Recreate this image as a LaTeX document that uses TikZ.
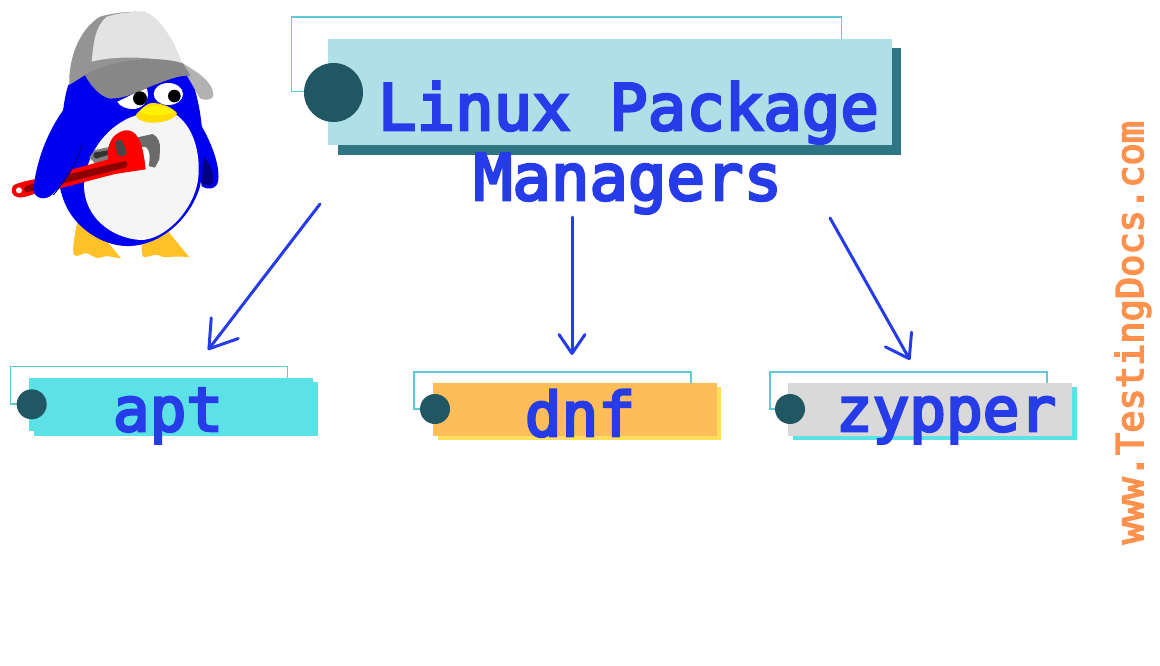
\documentclass[tikz,border=0pt]{standalone}
\usepackage{fontspec}
\usetikzlibrary{arrows.meta}
\newfontfamily\monofam[FakeBold=4.2]{DejaVu Sans Mono}
\definecolor{txtblue}{HTML}{263CE8}
\definecolor{dotc}{HTML}{215663}
\definecolor{linec}{HTML}{5CCBD8}
\definecolor{mainbg}{HTML}{AFE0E7}
\definecolor{mainsh}{HTML}{2F7684}
\definecolor{cyanb}{HTML}{5CE1E6}
\definecolor{orangeb}{HTML}{FFBD59}
\definecolor{yellowb}{HTML}{FFDE59}
\definecolor{greyb}{HTML}{D9D9D9}
\definecolor{sitec}{HTML}{FF914D}
\definecolor{pblue}{HTML}{0000F0}
\definecolor{pnavy}{HTML}{000080}
\definecolor{pfoot}{HTML}{FFC125}
\tikzset{
  outl/.style={draw=linec,line width=1.1pt,fill=white},
  dot/.style={circle,fill=dotc,inner sep=0pt,minimum size=#1},
  bigtxt/.style={anchor=base,text=txtblue,font=\monofam\fontsize{64}{70}\selectfont,inner sep=0pt},
  itemtxt/.style={anchor=base,text=txtblue,font=\monofam\fontsize{61}{66}\selectfont,inner sep=0pt},
  arr/.style args={#1/#2}{draw=txtblue,line width=3pt,line cap=round,-{Straight Barb[length=#1pt,width=#2pt,line width=3pt,round]}},
}
\begin{document}
\begin{tikzpicture}[x=1pt,y=-1pt]
\useasboundingbox[fill=white] (0,0) rectangle (1160,665);
% title
\draw[outl] (291.5,17) rectangle (841.5,91.5);
\fill[mainsh] (338,48) rectangle (901,154.5);
\fill[mainbg] (328,38.5) rectangle (891.5,145);
\node[dot=59pt] (titledot) at (333.5,92.5) {};
\node[bigtxt] (t1) at (628.5,130) {Linux Package};
\node[bigtxt] (t2) at (628,200) {Managers};
% apt
\draw[outl] (10.5,366.7) rectangle (287.7,404);
\fill[cyanb] (34,382) rectangle (317.7,435.7);
\fill[cyanb] (29,377.7) rectangle (313,431);
\node[dot=30pt] (aptdot) at (31.7,404.3) {};
\node[itemtxt] (apt) at (168,431) {apt};
% dnf
\draw[outl] (414,372) rectangle (691,409);
\fill[yellowb] (438,387) rectangle (721,440);
\fill[orangeb] (433,382.5) rectangle (717,436);
\node[dot=30pt] (dnfdot) at (435,409) {};
\node[itemtxt] (dnf) at (580,436) {dnf};
% zypper
\draw[outl] (770,372) rectangle (1047,409);
\fill[cyanb] (793,387) rectangle (1077,440);
\fill[greyb] (788,382.5) rectangle (1072,436);
\node[dot=30pt] (zypdot) at (790,409) {};
\node[itemtxt] (zyp) at (946,431) {zypper};
% arrows
\coordinate (a1s) at (320,204);
\coordinate (a1e) at (208,350);
\coordinate (a2s) at (572,217);
\coordinate (a2e) at (572,355);
\coordinate (a3s) at (830,218);
\coordinate (a3e) at (910,360);
\draw[arr=26/34] (a1s) -- (a1e);
\draw[arr=19/26] (a2s) -- (a2e);
\draw[arr=22/30] (a3s) -- (a3e);
% site
\node[rotate=90,anchor=base,text=sitec,font=\monofam\fontsize{37}{40}\selectfont,inner sep=0pt] (site) at (1143,332.5) {www.TestingDocs.com};
% penguin
\begin{scope}[scale=0.33333]
 % wrench handle end behind flipper
 \fill[red] (40,556) .. controls (60,546) and (90,540) .. (120,535) -- (130,575) .. controls (100,580) and (75,595) .. (55,592) .. controls (35,590) and (30,570) .. (40,556) -- cycle;
 \fill[red!55!black] (100,550) -- (78,558) .. controls (70,565) and (72,575) .. (80,577) -- (110,570) -- cycle;
 \fill[white] (57,571) circle [radius=9];
 % feet
 \fill[pfoot] (232,665) .. controls (225,700) and (215,750) .. (222,765) .. controls (235,775) and (250,755) .. (262,760) .. controls (275,765) and (290,780) .. (305,772) .. controls (320,762) and (345,775) .. (363,775) -- (285,680) -- cycle;
 \fill[pfoot] (425,735) .. controls (425,750) and (425,760) .. (428,770) .. controls (445,775) and (460,760) .. (475,765) .. controls (490,778) and (520,765) .. (568,772) -- (505,695) -- cycle;
 % right flipper
 \fill[pblue] (600,370) .. controls (630,420) and (660,490) .. (655,540) .. controls (652,570) and (620,570) .. (605,558) -- (590,450) -- cycle;
 \fill[pnavy] (612,470) .. controls (630,490) and (645,525) .. (638,550) .. controls (630,560) and (615,555) .. (605,550) -- cycle;
 % body
 \fill[pblue] (205,255) .. controls (190,300) and (190,340) .. (180,400) .. controls (165,500) and (170,600) .. (230,665) .. controls (270,710) and (330,740) .. (390,738) .. controls (480,735) and (570,660) .. (600,560) .. controls (615,480) and (615,340) .. (570,225) -- (400,190) -- (255,215) -- cycle;
 % belly
 \fill[white!96!black] (252,560) .. controls (255,480) and (300,400) .. (375,360) .. controls (420,335) and (490,330) .. (530,345) .. controls (590,390) and (602,480) .. (594,540) .. controls (580,635) and (490,722) .. (420,720) .. controls (330,713) and (255,650) .. (252,560) -- cycle;
 % hat
 \fill[black!42] (208,255) .. controls (205,180) and (235,90) .. (300,50) .. controls (340,38) and (400,33) .. (435,36) -- (545,195) -- (400,200) -- (255,225) -- cycle;
 \fill[black!11] (275,185) .. controls (280,130) and (285,80) .. (320,50) .. controls (360,38) and (410,32) .. (440,38) .. controls (490,60) and (530,140) .. (548,195) .. controls (480,170) and (350,165) .. (275,185) -- cycle;
 \fill[black!30] (545,188) .. controls (590,215) and (640,245) .. (640,285) .. controls (635,305) and (610,300) .. (600,295) -- (560,225) -- cycle;
 % eyes
 \fill[white] (352,305) .. controls (385,290) and (420,270) .. (440,265) .. controls (450,290) and (440,320) .. (405,327) .. controls (380,328) and (360,320) .. (352,305) -- cycle;
 \fill[white] (505,282) ellipse [x radius=44,y radius=33];
 % brim
 \fill[black!47] (255,225) .. controls (350,172) and (480,168) .. (548,190) .. controls (555,200) and (565,215) .. (572,228) .. controls (540,222) and (490,245) .. (445,262) .. controls (410,280) and (370,295) .. (330,296) .. controls (300,290) and (270,255) .. (255,225) -- cycle;
 \fill[black] (420,295) circle [radius=21];
 \fill[black] (523,288) circle [radius=19];
 % beak
 \fill[yellow!80!orange] (407,345) .. controls (420,330) and (440,308) .. (460,309) .. controls (490,310) and (520,325) .. (531,340) .. controls (525,360) and (480,370) .. (450,368) .. controls (425,365) and (410,358) .. (407,345) -- cycle;
 \fill[yellow] (420,335) .. controls (440,310) and (490,310) .. (525,335) .. controls (490,350) and (445,350) .. (420,335) -- cycle;
 % wrench screw and jaw
 \fill[black!50] (268,472) -- (285,450) -- (332,440) -- (340,475) -- (285,490) -- cycle;
 \fill[black!80] (282,458) -- (330,450) -- (332,462) -- (288,476) .. controls (280,475) and (278,465) .. (282,458) -- cycle;
 \fill[black!58] (412,412) -- (458,402) .. controls (475,410) and (482,430) .. (480,450) -- (478,478) -- (465,503) -- (445,498) .. controls (452,470) and (448,450) .. (438,442) -- (420,440) -- cycle;
 \fill[white] (424,442) -- (438,442) .. controls (448,450) and (452,470) .. (445,498) -- (434,505) -- cycle;
 % wrench body
 \fill[red] (120,535) -- (325,478) .. controls (320,440) and (330,402) .. (375,391) .. controls (410,388) and (428,420) .. (437,508) -- (345,522) -- (130,578) -- cycle;
 \fill[red!55!black] (190,527) -- (375,483) .. controls (385,485) and (385,500) .. (375,503) -- (190,550) -- cycle;
 \fill[black!72] (345,428) .. controls (350,418) and (365,418) .. (368,425) -- (380,458) .. controls (375,470) and (358,473) .. (352,462) -- cycle;
 % flipper
 \fill[pblue] (190,330) .. controls (150,385) and (110,470) .. (100,570) .. controls (105,597) and (135,602) .. (155,585) .. controls (190,550) and (235,490) .. (245,435) -- (300,300) -- (205,280) -- cycle;
 \draw[pnavy,line width=1pt] (245,435) .. controls (235,480) and (205,530) .. (160,585);
\end{scope}
\end{tikzpicture}
\end{document}
